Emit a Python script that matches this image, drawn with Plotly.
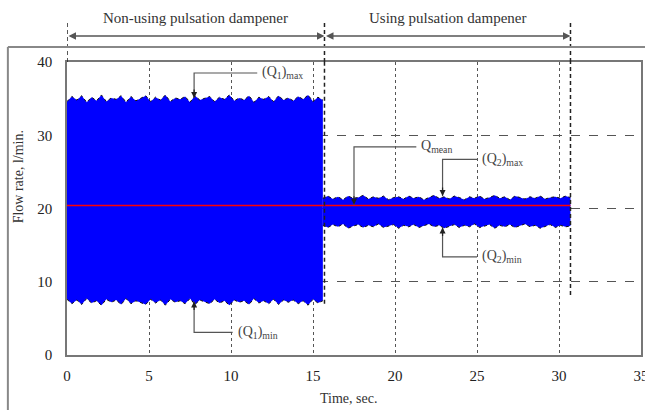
import numpy as np
import plotly.graph_objects as go

# ---------------- data ----------------
x_ticks = [0, 5, 10, 15, 20, 25, 30, 35]
y_ticks = [0, 10, 20, 30, 40]

# phase boundaries (s)
t_start = 0.0
t_switch = 15.7
t_end = 30.7

# Region 1: without dampener, envelope of the oscillating flow (l/min)
upper1 = [34.6, 35.3, 34.8, 35.4, 34.5, 35.2, 34.7, 35.5, 34.6, 35.1, 34.9, 35.4, 34.5, 35.3,
          34.7, 35.0, 35.4, 34.6, 35.2, 34.8, 35.5, 34.6, 35.1, 34.9, 35.3, 34.5, 35.4, 34.8,
          35.0, 35.3, 34.6, 35.2, 34.9, 35.5, 34.7, 35.1, 34.8, 35.4, 34.5, 35.2, 34.9, 35.3,
          34.6, 35.4, 34.8, 35.1, 34.7, 35.3, 34.9, 35.5, 34.6, 35.2, 34.8]
lower1 = [7.6, 7.0, 7.5, 6.9, 7.7, 7.1, 7.4, 6.8, 7.6, 7.2, 7.5, 6.9, 7.7, 7.0, 7.4, 7.2, 6.9,
          7.6, 7.1, 7.5, 6.8, 7.6, 7.2, 7.4, 7.0, 7.7, 6.9, 7.5, 7.2, 7.0, 7.6, 7.1, 7.4, 6.8,
          7.5, 7.2, 7.4, 6.9, 7.7, 7.1, 7.4, 7.0, 7.6, 6.9, 7.5, 7.2, 7.5, 7.0, 7.4, 6.8, 7.6,
          7.1, 7.4]
time1 = np.linspace(0.0, 15.6, len(upper1))

# Region 2: with dampener
upper2 = [21.4, 21.7, 21.3, 21.6, 21.2, 21.7, 21.4, 21.5, 21.8, 21.3, 21.6, 21.4, 21.7, 21.2,
          21.5, 21.6, 21.3, 21.7, 21.4, 21.6, 21.2, 21.5, 21.8, 21.4, 21.6, 21.3, 21.7, 21.5,
          21.2, 21.6, 21.4, 21.7, 21.3, 21.5, 21.8, 21.4, 21.6, 21.2, 21.7, 21.5, 21.3, 21.6,
          21.4, 21.7, 21.3, 21.5, 21.6, 21.4, 21.7, 21.5]
lower2 = [17.7, 17.4, 17.8, 17.5, 17.9, 17.3, 17.6, 17.8, 17.4, 17.7, 17.5, 17.9, 17.4, 17.6,
          17.8, 17.3, 17.7, 17.5, 17.8, 17.4, 17.6, 17.9, 17.5, 17.7, 17.3, 17.6, 17.8, 17.4,
          17.7, 17.5, 17.9, 17.4, 17.6, 17.8, 17.3, 17.7, 17.5, 17.8, 17.4, 17.6, 17.9, 17.5,
          17.7, 17.3, 17.6, 17.8, 17.4, 17.7, 17.5, 17.6]
time2 = np.linspace(15.6, 30.7, len(upper2))

q_mean = 20.4

# leader annotations: (label, tip_x, tip_y, corner_y, end_x, direction)
leaders = [
    ("(Q<sub>1</sub>)<sub>max</sub>", 7.75, 35.1, 38.5, 11.6, "down"),
    ("(Q<sub>1</sub>)<sub>min</sub>", 7.75, 7.3, 3.1, 10.1, "up"),
    ("Q<sub>mean</sub>", 17.5, 20.5, 28.4, 21.3, "down"),
    ("(Q<sub>2</sub>)<sub>max</sub>", 22.9, 21.7, 26.7, 25.0, "down"),
    ("(Q<sub>2</sub>)<sub>min</sub>", 22.9, 17.4, 13.4, 25.0, "up"),
]

phase_labels = ["Non-using pulsation dampener", "Using pulsation dampener"]

FONT = "Liberation Serif"
BLUE = "#0000FF"

fig = go.Figure()

# Region bands
for tt, lo, up in [(time1, lower1, upper1), (time2, lower2, upper2)]:
    fig.add_trace(go.Scatter(x=tt, y=lo, mode="lines",
                             line=dict(color="#111", width=1, dash="3px,3px"),
                             showlegend=False, hoverinfo="skip"))
    fig.add_trace(go.Scatter(x=tt, y=up, mode="lines", fill="tonexty",
                             fillcolor=BLUE,
                             line=dict(color="#111", width=1, dash="3px,3px"),
                             showlegend=False, hoverinfo="skip"))

# mean line
fig.add_trace(go.Scatter(x=[t_start, t_end], y=[q_mean, q_mean], mode="lines",
                         line=dict(color="#FF0000", width=1.5),
                         showlegend=False, hoverinfo="skip"))

annotations = []
# leader lines
for label, tx, ty, cy, ex, d in leaders:
    fig.add_trace(go.Scatter(x=[ex, tx, tx], y=[cy, cy, ty], mode="lines",
                             line=dict(color="#555", width=1.2),
                             showlegend=False, hoverinfo="skip"))
    annotations.append(dict(x=tx, y=ty, xref="x", yref="y", text="", showarrow=True,
                            ax=0, ay=-10 if d == "down" else 10,
                            arrowhead=2, arrowsize=1, arrowwidth=1.2,
                            arrowcolor="#222", standoff=0))
    annotations.append(dict(x=ex, y=cy, xref="x", yref="y", text=label, showarrow=False,
                            xanchor="left", yanchor="middle", xshift=3,
                            font=dict(family=FONT, size=14, color="#444")))

# phase arrows and labels
for (a, b), lab in zip([(t_start, t_switch), (t_switch, t_end)], phase_labels):
    annotations.append(dict(x=b, y=1.089, xref="x", yref="y domain",
                            ax=a, ay=1.089, axref="x", ayref="y domain",
                            text="", showarrow=True, arrowside="end+start",
                            arrowhead=2, startarrowhead=2, arrowsize=1,
                            startarrowsize=1, arrowwidth=1.5, arrowcolor="#555"))
    annotations.append(dict(x=(a + b) / 2, y=1.15, xref="x", yref="y domain",
                            text=lab, showarrow=False, yanchor="middle",
                            font=dict(family=FONT, size=15, color="#333")))

# axis titles
annotations.append(dict(x=-0.085, y=0.607, xref="paper", yref="paper",
                        xanchor="center", yanchor="middle",
                        text="Flow rate, l/min.", textangle=-90, showarrow=False,
                        font=dict(family=FONT, size=14, color="#333")))
annotations.append(dict(x=0.49, y=-0.147, xref="paper", yref="paper",
                        xanchor="center", yanchor="middle",
                        text="Time, sec.", showarrow=False,
                        font=dict(family=FONT, size=14, color="#333")))

shapes = []
# phase separators
sep_bottoms = [(t_start, None), (t_switch, 7.0), (t_end, 8.2)]
for xs, yb in sep_bottoms:
    shapes.append(dict(type="line", xref="x", yref="y domain", x0=xs, x1=xs,
                       y0=1.0, y1=1.137, layer="above",
                       line=dict(color="#222", width=1.5, dash="4px,3px")))
    if yb is not None:
        shapes.append(dict(type="line", xref="x", yref="y", x0=xs, x1=xs,
                           y0=yb, y1=40, layer="above",
                           line=dict(color="#222", width=1.5, dash="4px,3px")))
# outer frame lines
shapes.append(dict(type="line", xref="paper", yref="paper", x0=-0.103, x1=1.01,
                   y0=1.051, y1=1.051, line=dict(color="#888", width=2)))
shapes.append(dict(type="line", xref="paper", yref="paper", x0=-0.103, x1=-0.103,
                   y0=1.051, y1=-0.2, line=dict(color="#888", width=2)))

fig.update_layout(
    width=645, height=410,
    margin=dict(l=67, r=4, t=62, b=55),
    paper_bgcolor="white", plot_bgcolor="white",
    font=dict(family=FONT, size=15, color="#222"),
    annotations=annotations, shapes=shapes,
    xaxis=dict(range=[0, 35], tickvals=x_ticks, showgrid=True, gridcolor="#555",
               griddash="dot", gridwidth=1, zeroline=False, showline=True,
               linecolor="#777", linewidth=1.5, mirror=True, ticks="",
               ticklabelstandoff=6, ticklabeloverflow="allow", automargin=False),
    yaxis=dict(range=[0, 40], tickvals=y_ticks, showgrid=True, gridcolor="#555",
               griddash="dash", gridwidth=1, zeroline=False, showline=True,
               linecolor="#777", linewidth=1.5, mirror=True, ticks="",
               ticklabelstandoff=10, ticklabeloverflow="allow", automargin=False),
)

fig.write_html("out.html")
